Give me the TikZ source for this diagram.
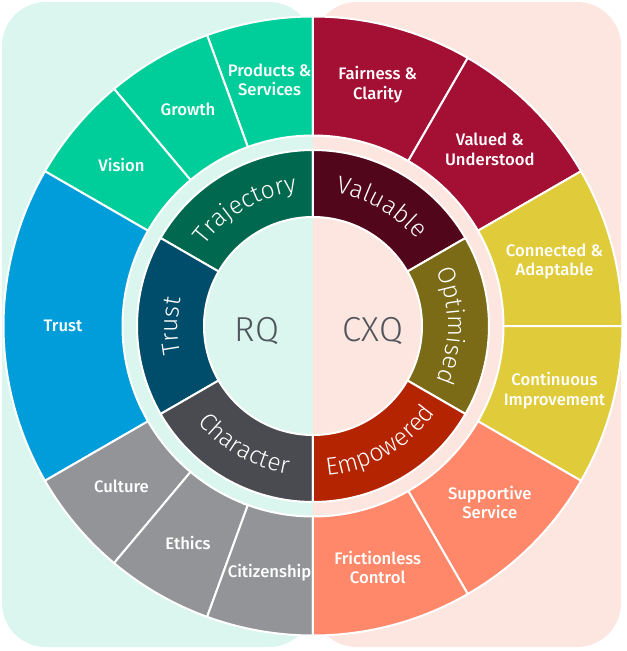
\documentclass[tikz,border=0pt]{standalone}
\usepackage{fontspec}
\setmainfont{Fira Sans}
\newfontfamily\ringfont{Fira Sans Light}
\newfontfamily\labelfont{Fira Sans Medium}
\usetikzlibrary{decorations.text}

\definecolor{rqback}{RGB}{218,246,238}
\definecolor{cxqback}{RGB}{253,230,224}
\definecolor{rqgreen}{RGB}{0,206,154}
\definecolor{rqblue}{RGB}{0,157,219}
\definecolor{rqgray}{RGB}{147,148,152}
\definecolor{cxqred}{RGB}{163,16,52}
\definecolor{cxqyellow}{RGB}{224,203,58}
\definecolor{cxqsalmon}{RGB}{255,136,106}
\definecolor{trajgreen}{RGB}{0,104,78}
\definecolor{trustteal}{RGB}{0,77,107}
\definecolor{chargray}{RGB}{74,75,80}
\definecolor{valmaroon}{RGB}{82,6,28}
\definecolor{optolive}{RGB}{123,107,22}
\definecolor{empred}{RGB}{180,36,0}
\definecolor{coretext}{RGB}{80,85,92}

\begin{document}
\begin{tikzpicture}[x=0.75pt,y=0.75pt]

  \tikzset{back box/.style={rounded corners=33pt}, }
  \tikzset{seg/.style={draw=white, line width=1.5pt}, }
  \tikzset{seg label/.style={text=white, align=center, inner sep=0pt,
      font=\labelfont\fontsize{12.5}{14.5}\selectfont}, }
  \tikzset{core label/.style={text=coretext, anchor=base,
      font=\ringfont\fontsize{26}{30}\selectfont}, }
  \tikzset{ring text/.style={decorate, decoration={text along path,
      text align=center, text color=white,
      text={|\ringfont\fontsize{18.5}{20}\selectfont|#1}}}, }

  \useasboundingbox (-313,-325) rectangle (313,326);
  \fill[rqback, back box] (-311,-321) rectangle (0,324);
  \fill[cxqback, back box] (0,-321) rectangle (308,324);
%
\foreach \c/\a/\b in {rqgreen/90/110, rqgreen/110/130, rqgreen/130/150,
    rqblue/150/210, rqgray/210/230, rqgray/230/250, rqgray/250/270,
    cxqred/90/60, cxqred/60/30, cxqyellow/30/0, cxqyellow/0/-30,
    cxqsalmon/-30/-60, cxqsalmon/-60/-90}
  \draw[seg, fill=\c] (\a:190.5) -- (\a:309.5)
    arc[start angle=\a, end angle=\b, radius=309.5] -- (\b:190.5)
    arc[start angle=\b, end angle=\a, radius=190.5] -- cycle;
%
\foreach \c/\a/\b in {trajgreen/90/150, trustteal/150/210, chargray/210/270,
    valmaroon/90/30, optolive/30/-30, empred/-30/-90}
  \draw[seg, fill=\c] (\a:109) -- (\a:176)
    arc[start angle=\a, end angle=\b, radius=176] -- (\b:109)
    arc[start angle=\b, end angle=\a, radius=109] -- cycle;
%
  \path[ring text=Trajectory] (150:135) arc[start angle=150, end angle=90, radius=135];
  \path[ring text=Trust] (210:135) arc[start angle=210, end angle=150, radius=135];
  \path[ring text=Character] (210:150) arc[start angle=210, end angle=270, radius=150];
  \path[ring text=Valuable] (90:135) arc[start angle=90, end angle=30, radius=135];
  \path[ring text=Optimised] (30:135) arc[start angle=30, end angle=-30, radius=135];
  \path[ring text=Empowered] (-90:150) arc[start angle=-90, end angle=-30, radius=150];
%
\foreach \ang/\txt [count=\i] in {100/{Products \&\\Services}, 120/Growth,
    140/Vision, 180/Trust, 220/Culture, 240/Ethics, 260/Citizenship,
    75/{Fairness \&\\Clarity}, 45/{Valued \&\\Understood},
    15/{Connected \&\\Adaptable}, -15/{Continuous\\Improvement},
    -45/{Supportive\\Service}, -75/{Frictionless\\Control}}
  \node[seg label] (o\i) at (\ang:250) {\txt};
%
  \node[core label] (rq) at (-56,-15) {RQ};
  \node[core label] (cxq) at (60,-15) {CXQ};
%
\end{tikzpicture}
\end{document}
